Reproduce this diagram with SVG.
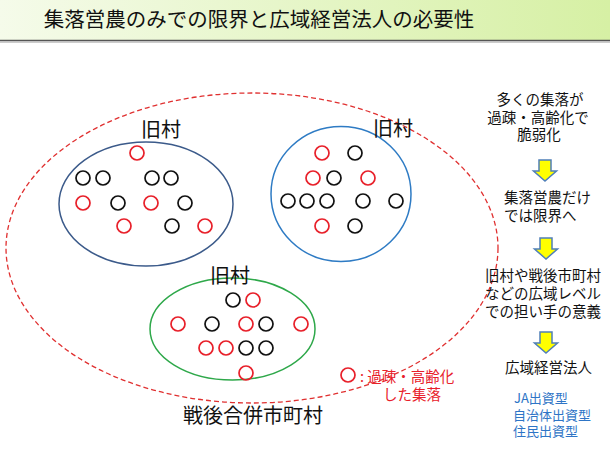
<svg xmlns="http://www.w3.org/2000/svg" width="610" height="457" viewBox="0 0 610 457">
<defs>
<linearGradient id="tg" x1="0" y1="0" x2="1" y2="0">
<stop offset="0" stop-color="#F5FBEA"/>
<stop offset="1" stop-color="#D6F0A4"/>
</linearGradient>
<path id="arr" d="M-6,0 h12 v11 h5.5 l-11.5,10 l-11.5,-10 h5.5 z" fill="#FFFF00" stroke="#4F7FB8" stroke-width="1.5" stroke-linejoin="miter"/>
</defs>
<style>
text{font-family:"Noto Sans CJK JP","Noto Sans",sans-serif;}
.r{fill:none;stroke:#E8202A;stroke-width:1.7;}
.k{fill:none;stroke:#111;stroke-width:1.7;}
.lbl{font-size:20px;fill:#111;text-anchor:middle;}
.side{font-size:14.5px;fill:#111;}
.blue{font-size:13px;fill:#2E75C6;}
.leg{font-size:14.5px;fill:#E8202A;}
</style>
<rect x="0" y="0" width="610" height="457" fill="#FFFFFF"/>
<g id="title">
<rect x="0" y="0" width="610" height="40" fill="url(#tg)"/>
<line x1="0" y1="40.5" x2="610" y2="40.5" stroke="#555" stroke-width="1.5"/>
<line x1="0" y1="42" x2="610" y2="42" stroke="#BBB" stroke-width="1.5"/>
<text x="259" y="27" font-size="20.5" fill="#111" text-anchor="middle">集落営農のみでの限界と広域経営法人の必要性</text>
</g>
<g id="city">
<ellipse cx="252" cy="248" rx="246" ry="155" fill="none" stroke="#E03030" stroke-width="1.3" stroke-dasharray="5,3"/>
<text class="lbl" x="253" y="423">戦後合併市町村</text>
</g>
<g id="village-left">
<ellipse cx="146" cy="204" rx="87" ry="62" fill="none" stroke="#3B5A8A" stroke-width="1.5"/>
<text class="lbl" x="161" y="137">旧村</text>
<circle class="r" cx="137" cy="153" r="7"/>
<circle class="k" cx="83" cy="178" r="7"/>
<circle class="k" cx="103" cy="178" r="7"/>
<circle class="k" cx="152" cy="178" r="7"/>
<circle class="k" cx="171" cy="178" r="7"/>
<circle class="r" cx="83" cy="203" r="7"/>
<circle class="k" cx="118" cy="203" r="7"/>
<circle class="r" cx="151" cy="203" r="7"/>
<circle class="k" cx="185" cy="203" r="7"/>
<circle class="r" cx="124" cy="226" r="7"/>
<circle class="k" cx="172" cy="226" r="7"/>
<circle class="r" cx="205" cy="226" r="7"/>
</g>
<g id="village-right">
<ellipse cx="341" cy="194" rx="70" ry="67.5" fill="none" stroke="#2E7BC4" stroke-width="1.5"/>
<text class="lbl" x="393" y="136">旧村</text>
<circle class="r" cx="322" cy="153" r="7"/>
<circle class="k" cx="355" cy="153" r="7"/>
<circle class="r" cx="313" cy="178" r="7"/>
<circle class="k" cx="334" cy="178" r="7"/>
<circle class="r" cx="368" cy="178" r="7"/>
<circle class="k" cx="288" cy="201" r="7"/>
<circle class="k" cx="307" cy="201" r="7"/>
<circle class="k" cx="327" cy="201" r="7"/>
<circle class="k" cx="363" cy="201" r="7"/>
<circle class="k" cx="396" cy="201" r="7"/>
<circle class="r" cx="322" cy="226" r="7"/>
<circle class="k" cx="355" cy="226" r="7"/>
</g>
<g id="village-bottom">
<ellipse cx="232.5" cy="329" rx="82.5" ry="51" fill="none" stroke="#2EA84A" stroke-width="1.5"/>
<text class="lbl" x="230" y="283">旧村</text>
<circle class="k" cx="233" cy="300" r="7"/>
<circle class="r" cx="253" cy="300" r="7"/>
<circle class="r" cx="178" cy="324" r="7"/>
<circle class="k" cx="212" cy="324" r="7"/>
<circle class="r" cx="246" cy="324" r="7"/>
<circle class="k" cx="266" cy="324" r="7"/>
<circle class="r" cx="301" cy="324" r="7"/>
<circle class="r" cx="206" cy="348" r="7"/>
<circle class="r" cx="226" cy="348" r="7"/>
<circle class="k" cx="246" cy="348" r="7"/>
<circle class="k" cx="266" cy="348" r="7"/>
<circle class="r" cx="246" cy="373" r="7"/>
</g>
<g id="legend">
<circle class="r" cx="348" cy="375" r="7"/>
<text class="leg" x="360" y="382">: 過疎・高齢化</text>
<text class="leg" x="383" y="400">した集落</text>
</g>
<g id="step1">
<text class="side" x="540" y="105" text-anchor="middle">多くの集落が</text>
<text class="side" x="538" y="123" text-anchor="middle">過疎・高齢化で</text>
<text class="side" x="539" y="140" text-anchor="middle">脆弱化</text>
</g>
<g id="step2">
<text class="side" x="504" y="203">集落営農だけ</text>
<text class="side" x="504" y="221">では限界へ</text>
</g>
<g id="step3">
<text class="side" x="485" y="281">旧村や戦後市町村</text>
<text class="side" x="485" y="299">などの広域レベル</text>
<text class="side" x="485" y="317">での担い手の意義</text>
</g>
<g id="step4">
<text class="side" x="505" y="373">広域経営法人</text>
</g>
<g id="types">
<text class="blue" x="514" y="403">JA出資型</text>
<text class="blue" x="513" y="420">自治体出資型</text>
<text class="blue" x="513" y="436">住民出資型</text>
</g>
<g id="connectors">
<use href="#arr" x="545" y="160"/>
<use href="#arr" x="546" y="238"/>
<use href="#arr" x="546" y="332"/>
</g>
</svg>
